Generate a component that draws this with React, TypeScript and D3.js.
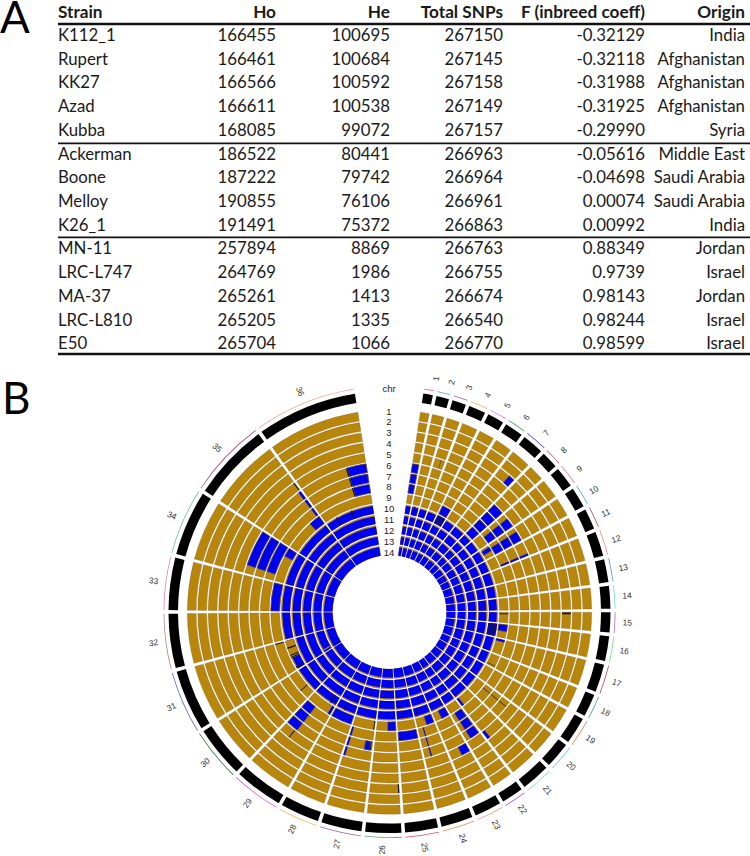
import React, { useEffect, useRef } from "react";
import * as d3 from "d3";

// panel A
const columns = ["Strain", "Ho", "He", "Total SNPs", "F (inbreed coeff)", "Origin"];
const strains = ["K112_1", "Rupert", "KK27", "Azad", "Kubba", "Ackerman", "Boone", "Melloy", "K26_1", "MN-11", "LRC-L747", "MA-37", "LRC-L810", "E50"];
const ho = [166455, 166461, 166566, 166611, 168085, 186522, 187222, 190855, 191491, 257894, 264769, 265261, 265205, 265704];
const he = [100695, 100684, 100592, 100538, 99072, 80441, 79742, 76106, 75372, 8869, 1986, 1413, 1335, 1066];
const totalSnps = [267150, 267145, 267158, 267149, 267157, 266963, 266964, 266961, 266863, 266763, 266755, 266674, 266540, 266770];
const inbreeding = ["-0.32129", "-0.32118", "-0.31988", "-0.31925", "-0.29990", "-0.05616", "-0.04698", "0.00074", "0.00992", "0.88349", "0.9739", "0.98143", "0.98244", "0.98599"];
const origins = ["India", "Afghanistan", "Afghanistan", "Afghanistan", "Syria", "Middle East", "Saudi Arabia", "Saudi Arabia", "India", "Jordan", "Israel", "Jordan", "Israel", "Israel"];

// panel B, sizes (Mb)
const chrSizes = [0.268, 0.355, 0.387, 0.472, 0.461, 0.514, 0.599, 0.472, 0.578, 0.568, 0.578, 0.684, 0.642, 0.631, 0.557, 0.695, 0.779, 0.631, 0.748, 0.726, 0.801, 0.61, 0.748, 0.886, 0.917, 1.002, 1.13, 1.087, 1.352, 1.437, 1.702, 1.511, 1.458, 1.819, 2.158, 2.8];
const chrColors = ["#e0606c", "#5aaa8a", "#a0649c", "#f0b468", "#e860e0", "#5a9a62", "#5a5ad8", "#b06468", "#d87898", "#58b496", "#b05058", "#f08888", "#6494c4", "#70d4d0", "#a864e4", "#64e08c", "#b04448", "#44a4a4", "#f08464", "#78c4e4", "#78e4d4", "#a860d8", "#f0a090", "#e89060", "#e05060", "#60a080", "#a0609a", "#f0b868", "#e860e0", "#408048", "#6464d4", "#b08480", "#e484a4", "#70c4a0", "#b05068", "#f4a498"];
const trackLabels = d3.range(1, 15);
const fullBlueTracks = [10, 11, 12, 13, 14];

// [chr, track, from, to], from/to are fractions of the chromosome
const blueBlocks = [
  [1, 6, 0, 1], [1, 7, 0, 1], [1, 8, 0, 1],
  [5, 9, 0, 1],
  [7, 3, 0.65, 1],
  [8, 6, 0, 1], [8, 7, 0, 1], [8, 8, 0, 1], [8, 9, 0, 1],
  [9, 6, 0.35, 1], [9, 7, 0.35, 1], [9, 8, 0.35, 1],
  [10, 6, 0.3, 1], [10, 7, 0.3, 1], [10, 8, 0.3, 1], [10, 9, 0.15, 0.55],
  [11, 6, 0.85, 1], [11, 7, 0.85, 1], [11, 8, 0.85, 1],
  [16, 9, 0, 0.5], [17, 9, 0, 0.15],
  [21, 5, 0.85, 1], [21, 9, 0.85, 1],
  [22, 6, 0.05, 0.7], [22, 7, 0.05, 0.7], [22, 8, 0.05, 0.7],
  [23, 5, 0, 0.45], [23, 9, 0, 0.55],
  [24, 9, 0, 0.45], [24, 6, 0.66, 0.72], [24, 7, 0.66, 0.72], [24, 8, 0.66, 0.72],
  [25, 8, 0, 1],
  [26, 9, 0, 0.42],
  [27, 7, 0.08, 0.3], [27, 6, 0.93, 1], [27, 7, 0.93, 1], [27, 8, 0.93, 1],
  [28, 9, 0, 1],
  [29, 9, 0, 0.1], [29, 6, 0.62, 0.99], [29, 7, 0.62, 0.99], [29, 8, 0.62, 0.99],
  [33, 9, 0, 1],
  [34, 6, 0.18, 1], [34, 7, 0.18, 1], [34, 8, 0.18, 1], [34, 9, 0.75, 1],
  [35, 9, 0.72, 1], [35, 6, 0.95, 1], [35, 7, 0.95, 1], [35, 8, 0.95, 1],
  [36, 6, 0.72, 1], [36, 7, 0.72, 1], [36, 8, 0.72, 1],
];
// bits of inner rings that are not blue
const brownBlocks = [[31, 10, 0.4, 1], [31, 13, 0.08, 0.14]];
// thin dark marks
const darkMarks = [
  [3, 5, 0.6, 0.64], [5, 10, 0, 1], [16, 10, 0, 1], [15, 9, 0.1, 0.2], [15, 3, 0.02, 0.12],
  [18, 9, 0.84, 0.88], [20, 8, 0.28, 0.32], [20, 7, 0.28, 0.32], [20, 6, 0.28, 0.32],
  [26, 3, 0, 0.04], [25, 8, 0.5, 0.53], [27, 7, 0.04, 0.08], [27, 9, 0.02, 0.06],
  [29, 5, 0.66, 0.69], [30, 9, 0.33, 0.36], [31, 9, 0.97, 1],
  [31, 10, 0.73, 0.78], [31, 10, 0.48, 0.52], [31, 10, 0.41, 0.45], [31, 10, 0.04, 0.09],
  [35, 5, 0.98, 1], [36, 6, 0.7, 0.72], [36, 7, 0.7, 0.72], [36, 8, 0.7, 0.72],
  [36, 10, 0.22, 0.24], [36, 10, 0.55, 0.57], [2, 10, 0.3, 0.5],
  [29, 10, 0.2, 0.26], [28, 10, 0.55, 0.59], [24, 10, 0.8, 0.84], [23, 10, 0.07, 0.12],
];

const width = 750;
const height = 856;
const cx = 389.5;
const cy = 612;
const startDeg = 8.8;
const endDeg = 351;
const gapDeg = 0.95;
const calibriLike = "Lato, Carlito, sans-serif";
const plotFont = "'Liberation Sans', Arial, sans-serif";

const App = () => {
  const ref = useRef(null);

  function drawTable(svg) {
    const colX = [58, 276, 390, 503, 645, 745];
    const y = d3.scaleLinear().domain([0, 13]).range([35, 343.3]);
    const g = svg.append("g").attr("font-family", calibriLike).attr("font-size", 16.8).attr("fill", "#1a1a1a");

    g.selectAll("text.head")
      .data(columns)
      .join("text")
      .attr("class", "head")
      .attr("x", (d, i) => colX[i])
      .attr("y", 18)
      .attr("text-anchor", (d, i) => (i === 0 ? "start" : "end"))
      .attr("font-weight", "bold")
      .attr("font-size", 17.2)
      .text((d) => d);

    const rows = [strains, ho, he, totalSnps, inbreeding, origins];
    rows.forEach((col, c) => {
      g.selectAll(`text.col${c}`)
        .data(col)
        .join("text")
        .attr("class", `col${c}`)
        .attr("x", colX[c])
        .attr("y", (d, i) => y(i) + 6)
        .attr("text-anchor", c === 0 ? "start" : "end")
        .text((d) => d);
    });

    g.selectAll("line")
      .data([24, 143.3, 237.4, 354])
      .join("line")
      .attr("x1", 58)
      .attr("x2", 750)
      .attr("y1", (d) => d)
      .attr("y2", (d) => d)
      .attr("stroke", "#111")
      .attr("stroke-width", (d, i) => (i === 0 || i === 3 ? 2.6 : 1.8));

    svg.append("text").attr("x", 0).attr("y", 33).attr("font-family", calibriLike).attr("font-size", 44).text("A");
    svg.append("text").attr("x", 2).attr("y", 414).attr("font-family", calibriLike).attr("font-size", 44).text("B");
  }

  function drawCircle(svg) {
    const total = d3.sum(chrSizes);
    const perMb = (endDeg - startDeg - gapDeg * (chrSizes.length - 1)) / total;
    let cursor = startDeg;
    const sectors = chrSizes.map((size, i) => {
      const a0 = cursor;
      const a1 = cursor + size * perMb;
      cursor = a1 + gapDeg;
      return { chr: i + 1, size, angle: d3.scaleLinear().domain([0, 1]).range([a0, a1].map((d) => (d * Math.PI) / 180)) };
    });
    const r = d3.scaleLinear().domain([0, 14]).range([203, 57]);
    const arc = d3.arc();
    const cellPath = (chr, track, f0, f1, inset = 0) =>
      arc({
        innerRadius: r(track) + (track === 14 ? 0 : 0.8),
        outerRadius: r(track - 1) - 0.8 - inset,
        startAngle: sectors[chr - 1].angle(f0),
        endAngle: sectors[chr - 1].angle(f1),
      });
    const g = svg.append("g").attr("transform", `translate(${cx},${cy})`);

    // colored arcs + black ideogram
    g.selectAll("path.ideo")
      .data(sectors)
      .join("path")
      .attr("class", "ideo")
      .attr("fill", "#000")
      .attr("d", (d) => arc({ innerRadius: 211.5, outerRadius: 221, startAngle: d.angle(0), endAngle: d.angle(1) }));
    g.selectAll("path.rim")
      .data(sectors)
      .join("path")
      .attr("class", "rim")
      .attr("fill", (d) => chrColors[d.chr - 1])
      .attr("d", (d) => arc({ innerRadius: 225.2, outerRadius: 226, startAngle: d.angle(0), endAngle: d.angle(1) }));

    // brown base cells
    const cells = sectors.flatMap((s) => trackLabels.map((t) => ({ chr: s.chr, track: t })));
    g.selectAll("path.cell")
      .data(cells)
      .join("path")
      .attr("class", "cell")
      .attr("fill", "#B8860B")
      .attr("stroke", "#6d5a25")
      .attr("stroke-width", 0.3)
      .attr("d", (d) => cellPath(d.chr, d.track, 0, 1));

    // the inner rings are blue with a sliver of brown left on the outside
    const ringBlocks = cells.filter((d) => fullBlueTracks.includes(d.track));
    g.selectAll("path.ring")
      .data(ringBlocks)
      .join("path")
      .attr("class", "ring")
      .attr("fill", "#0000F0")
      .attr("d", (d) => cellPath(d.chr, d.track, 0, 1, 1.1));

    g.selectAll("path.brown")
      .data(brownBlocks)
      .join("path")
      .attr("class", "brown")
      .attr("fill", "#B8860B")
      .attr("d", (d) => cellPath(d[0], d[1], d[2], d[3]));

    g.selectAll("path.blue")
      .data(blueBlocks)
      .join("path")
      .attr("class", "blue")
      .attr("fill", "#0000F0")
      .attr("stroke", "#6b5a30")
      .attr("stroke-width", (d) => (d[3] - d[2] > 0.2 ? 0.7 : 0.2))
      .attr("d", (d) => cellPath(d[0], d[1], d[2], d[3]));

    g.selectAll("path.dark")
      .data(darkMarks)
      .join("path")
      .attr("class", "dark")
      .attr("fill", (d) => (d[3] - d[2] > 0.15 ? "#0a0a90" : "#141430"))
      .attr("d", (d) => cellPath(d[0], d[1], d[2], d[3]));

    // chromosome names, radial like circos does
    g.selectAll("text.chr")
      .data(sectors)
      .join("text")
      .attr("class", "chr")
      .attr("font-family", plotFont)
      .attr("font-size", 8.4)
      .attr("fill", "#333")
      .attr("text-anchor", "middle")
      .attr("dominant-baseline", "middle")
      .attr("transform", (d) => {
        // names in the first quadrant sit a little ahead of their sector
        const mid = (d.angle(0.5) * 180) / Math.PI;
        const deg = mid < 90 ? mid + 1.6 * (1 - mid / 90) : mid;
        const a = (deg * Math.PI) / 180;
        const rot = deg < 180 ? deg - 90 : deg - 270;
        return `translate(${238 * Math.sin(a)},${-238 * Math.cos(a)}) rotate(${rot})`;
      })
      .text((d) => d.chr);

    // track numbers in the gap
    const labelY = d3.scaleLinear().domain([1, 14]).range([411, 552]);
    svg.append("g")
      .attr("font-family", plotFont)
      .attr("font-size", 9.5)
      .attr("fill", "#222")
      .attr("text-anchor", "middle")
      .selectAll("text")
      .data(["chr", ...trackLabels])
      .join("text")
      .attr("x", 389)
      .attr("y", (d) => (d === "chr" ? 392 : labelY(d) + 3.5))
      .text((d) => d);
  }

  useEffect(() => {
    const svg = d3.select(ref.current);
    svg.selectAll("*").remove();
    drawTable(svg);
    drawCircle(svg);
  }, []);

  return (
    <svg
      ref={ref}
      width={width}
      height={height}
      viewBox={`0 0 ${width} ${height}`}
      style={{ position: "absolute", left: 0, top: 0, background: "#fff" }}
    ></svg>
  );
};

export default App;
